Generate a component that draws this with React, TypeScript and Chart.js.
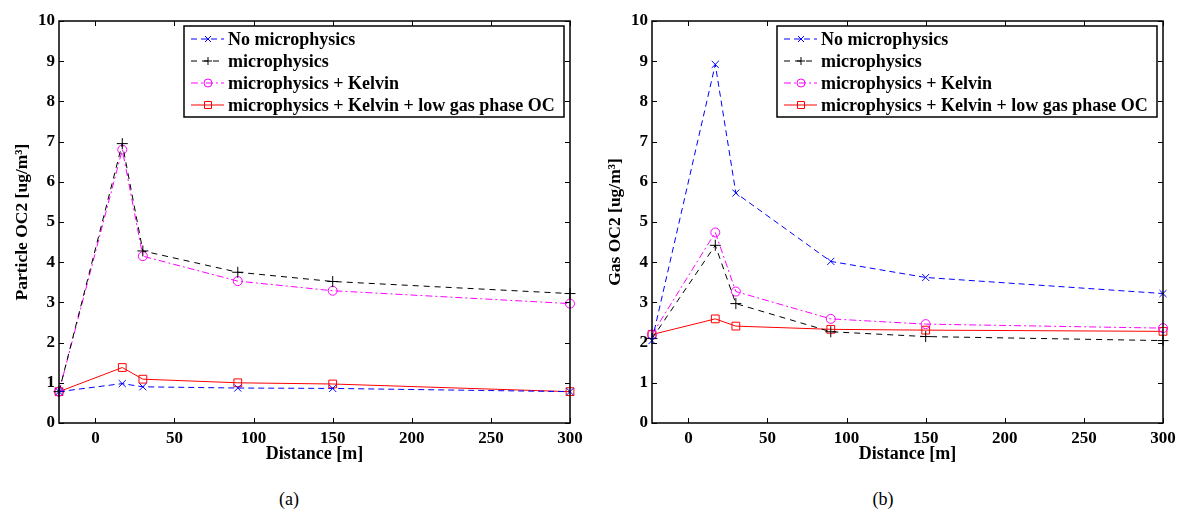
import React, { useEffect, useRef } from "react";
import { Chart, registerables } from "chart.js";

Chart.register(...registerables);

// ---------- data ----------
const distances = [-23, 17, 30, 90, 150, 300];
const xTickValues = [0, 50, 100, 150, 200, 250, 300];
const yTickValues = [0, 1, 2, 3, 4, 5, 6, 7, 8, 9, 10];
const seriesNames = [
  "No microphysics",
  "microphysics",
  "microphysics + Kelvin",
  "microphysics + Kelvin + low gas phase OC",
];

// Panel (a): Particle OC2
const particleNoMicro = [0.78, 0.98, 0.9, 0.87, 0.86, 0.78];
const particleMicro = [0.78, 6.95, 4.28, 3.75, 3.52, 3.22];
const particleKelvin = [0.78, 6.8, 4.15, 3.53, 3.29, 2.97];
const particleLowGas = [0.78, 1.38, 1.09, 1.0, 0.97, 0.78];

// Panel (b): Gas OC2
const gasNoMicro = [2.05, 8.92, 5.72, 4.02, 3.62, 3.22];
const gasMicro = [2.1, 4.42, 2.97, 2.27, 2.15, 2.05];
const gasKelvin = [2.2, 4.74, 3.27, 2.59, 2.46, 2.36];
const gasLowGas = [2.2, 2.59, 2.41, 2.33, 2.31, 2.28];

// ---------- styles ----------
const STYLES = [
  { color: "#0000ff", dash: [6, 4], point: "crossRot", radius: 5 },
  { color: "#000000", dash: [6, 5], point: "cross", radius: 5.5 },
  { color: "#ff00ff", dash: [7, 3, 2, 3], point: "circle", radius: 4.5 },
  { color: "#ff0000", dash: [], point: "rect", radius: 5.5 },
];

const SERIF = "'Liberation Serif', 'Times New Roman', serif";

function drawMarker(ctx: CanvasRenderingContext2D, style: string, x: number, y: number, r: number) {
  ctx.beginPath();
  if (style === "crossRot") {
    const s = r * 0.75;
    ctx.moveTo(x - s, y - s);
    ctx.lineTo(x + s, y + s);
    ctx.moveTo(x + s, y - s);
    ctx.lineTo(x - s, y + s);
  } else if (style === "cross") {
    ctx.moveTo(x - r, y);
    ctx.lineTo(x + r, y);
    ctx.moveTo(x, y - r);
    ctx.lineTo(x, y + r);
  } else if (style === "circle") {
    ctx.arc(x, y, r, 0, Math.PI * 2);
  } else if (style === "rect") {
    ctx.rect(x - r, y - r, 2 * r, 2 * r);
  }
  ctx.stroke();
}

const boxPlugin = {
  id: "matlabBox",
  afterDatasetsDraw(chart: any) {
    const { ctx, chartArea } = chart;
    const { left, right, top, bottom } = chartArea;
    const xs = chart.scales.x;
    const ys = chart.scales.y;
    ctx.save();
    ctx.strokeStyle = "#000";
    ctx.lineWidth = 1.5;
    ctx.strokeRect(left, top, right - left, bottom - top);
    ctx.lineWidth = 1;
    const tl = 5;
    ctx.beginPath();
    xTickValues.forEach((v) => {
      const px = Math.round(xs.getPixelForValue(v)) + 0.5;
      ctx.moveTo(px, bottom);
      ctx.lineTo(px, bottom - tl);
      ctx.moveTo(px, top);
      ctx.lineTo(px, top + tl);
    });
    yTickValues.forEach((v) => {
      const py = Math.round(ys.getPixelForValue(v)) + 0.5;
      ctx.moveTo(left, py);
      ctx.lineTo(left + tl, py);
      ctx.moveTo(right, py);
      ctx.lineTo(right - tl, py);
    });
    ctx.stroke();

    // legend
    const bw = 380;
    const bh = 91;
    const bx = right - 6 - bw;
    const by = top + 5;
    ctx.fillStyle = "#fff";
    ctx.fillRect(bx, by, bw, bh);
    ctx.strokeStyle = "#000";
    ctx.lineWidth = 1.5;
    ctx.strokeRect(bx, by, bw, bh);
    ctx.font = `bold 18px ${SERIF}`;
    ctx.textBaseline = "middle";
    ctx.textAlign = "left";
    seriesNames.forEach((name, i) => {
      const st = STYLES[i];
      const ry = by + 13 + i * 22;
      ctx.strokeStyle = st.color;
      ctx.lineWidth = 1;
      ctx.setLineDash(st.dash);
      ctx.beginPath();
      ctx.moveTo(bx + 7, ry);
      ctx.lineTo(bx + 40, ry);
      ctx.stroke();
      ctx.setLineDash([]);
      drawMarker(ctx, st.point, bx + 24, ry, i === 3 ? 3.5 : 4);
      ctx.fillStyle = "#000";
      ctx.fillText(name, bx + 44, ry + 1);
    });
    ctx.restore();
  },
};

function makeConfig(series: number[][], yTitle: string, yWidth: number, rightPad: number, titlePad: number): any {
  return {
    type: "line",
    data: {
      datasets: series.map((vals, i) => ({
        label: seriesNames[i],
        data: distances.map((d, j) => ({ x: d, y: vals[j] })),
        borderColor: STYLES[i].color,
        borderDash: STYLES[i].dash,
        borderWidth: 1,
        pointStyle: STYLES[i].point,
        pointRadius: STYLES[i].radius,
        pointBorderColor: STYLES[i].color,
        pointBackgroundColor: "rgba(0,0,0,0)",
        pointBorderWidth: 1,
        tension: 0,
        fill: false,
        clip: false,
      })),
    },
    options: {
      responsive: false,
      animation: false,
      events: [],
      layout: { padding: { left: 0, right: rightPad, top: 21, bottom: 15 } },
      plugins: {
        legend: { display: false },
        tooltip: { enabled: false },
      },
      scales: {
        x: {
          type: "linear",
          min: -23,
          max: 300,
          grid: { display: false, drawTicks: false },
          border: { display: false },
          afterBuildTicks: (s: any) => {
            s.ticks = xTickValues.map((v) => ({ value: v }));
          },
          afterFit: (s: any) => {
            s.height = 42;
            s.paddingLeft = 0;
            s.paddingRight = 0;
          },
          ticks: {
            padding: 5,
            autoSkip: false,
            maxRotation: 0,
            color: "#000",
            font: { family: SERIF, size: 17, weight: "bold" },
          },
          title: {
            display: true,
            text: "Distance [m]",
            color: "#000",
            padding: { top: 0, bottom: 0 },
            font: { family: SERIF, size: 18, weight: "bold" },
          },
        },
        y: {
          type: "linear",
          min: 0,
          max: 10,
          grid: { display: false, drawTicks: false },
          border: { display: false },
          afterBuildTicks: (s: any) => {
            s.ticks = yTickValues.map((v) => ({ value: v }));
          },
          afterFit: (s: any) => {
            s.width = yWidth;
            s.paddingTop = 0;
            s.paddingBottom = 0;
          },
          ticks: {
            padding: 4,
            color: "#000",
            font: { family: SERIF, size: 17, weight: "bold" },
          },
          title: {
            display: true,
            text: yTitle,
            color: "#000",
            padding: { top: titlePad, bottom: 0 },
            font: { family: SERIF, size: 17.5, weight: "bold" },
          },
        },
      },
    },
    plugins: [boxPlugin],
  };
}

function Panel(props: { config: any; left: number; width: number }) {
  const ref = useRef<HTMLCanvasElement>(null);
  useEffect(() => {
    const chart = new Chart(ref.current as HTMLCanvasElement, props.config);
    return () => chart.destroy();
  }, []);
  return (
    <canvas
      ref={ref}
      width={props.width}
      height={480}
      style={{ position: "absolute", left: props.left, top: 0, width: props.width, height: 480 }}
    />
  );
}

export default function App() {
  const cfgA = makeConfig(
    [particleNoMicro, particleMicro, particleKelvin, particleLowGas],
    "Particle OC2 [ug/m³]",
    59,
    20,
    12
  );
  const cfgB = makeConfig(
    [gasNoMicro, gasMicro, gasKelvin, gasLowGas],
    "Gas OC2 [ug/m³]",
    62,
    14,
    15
  );
  const caption: React.CSSProperties = {
    position: "absolute",
    top: 489,
    width: 60,
    textAlign: "center",
    fontFamily: SERIF,
    fontSize: 18,
    lineHeight: "20px",
    color: "#000",
  };
  return (
    <div style={{ position: "absolute", left: 0, top: 0, width: 1177, height: 514, background: "#fff" }}>
      <Panel config={cfgA} left={0} width={590} />
      <Panel config={cfgB} left={590} width={587} />
      <div style={{ ...caption, left: 259 }}>(a)</div>
      <div style={{ ...caption, left: 853 }}>(b)</div>
    </div>
  );
}
